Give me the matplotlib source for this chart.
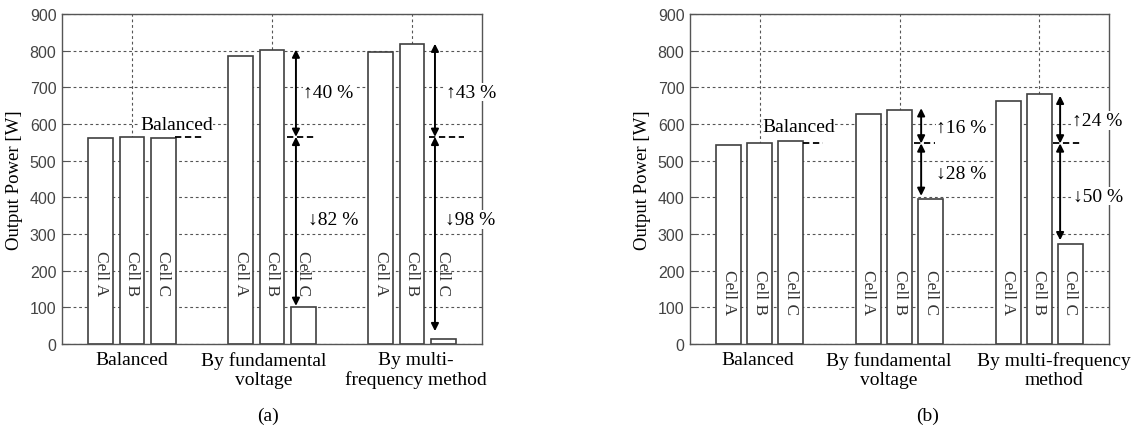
import numpy as np
import matplotlib.pyplot as plt
from matplotlib.transforms import blended_transform_factory

plt.rcParams['font.family'] = ['Liberation Serif', 'DejaVu Serif']

# --- DATA ---
groups = [1, 2, 3]
cells = ["Cell A", "Cell B", "Cell C"]

# panel (a)
power_a = [[561, 564, 561],   # balanced
           [786, 803, 100],   # by fundamental voltage
           [797, 819, 15]]    # by multi-frequency method
balanced_a = 565
arrow_top_a = [803, 819]
arrow_bot_a = [104, 35]
pct_up_a = ["\u219140 %", "\u219143 %"]
pct_dn_a = ["\u219382 %", "\u219398 %"]
xlabels_a = ["Balanced", "By fundamental\nvoltage", "By multi-\nfrequency method"]

# panel (b)
power_b = [[543, 549, 553],
           [628, 637, 395],
           [663, 681, 272]]
balanced_b = 547
arrow_top_b = [643, 677]
arrow_bot_b = [404, 283]
pct_up_b = ["\u219116 %", "\u219124 %"]
pct_dn_b = ["\u219328 %", "\u219350 %"]
xlabels_b = ["Balanced", "By fundamental\nvoltage", "By multi-frequency\nmethod"]

offsets = [-0.222, 0.0, 0.222]
bar_w = 0.178

EDGE = '#404040'
GRIDC = '#555555'


def draw_panel(ax, power, bal, a_top, a_bot, up_txt, dn_txt, xlabels,
               label_x, cell_y, arrow_dx, bal_spans, bal_txt, up_pos, dn_pos,
               tag, tag_x):
    power = np.array(power)
    for j in range(3):
        xs = np.array(groups) + offsets[j]
        ax.bar(xs, power[:, j], width=bar_w, facecolor='white',
               edgecolor=EDGE, linewidth=1.2, zorder=2)
        for x in xs:
            ax.text(x, cell_y, cells[j], rotation=-90, ha='center', va='center',
                    fontsize=12.5, color='#333333', zorder=3)

    # balanced reference dashes
    for (x0, x1) in bal_spans:
        ax.plot([x0, x1], [bal, bal], color='black', ls=(0, (3.5, 2)),
                lw=1.3, zorder=4)
    ax.text(bal_txt[0], bal_txt[1], "Balanced", ha='center', va='center',
            fontsize=14, zorder=5,
            bbox=dict(facecolor='white', edgecolor='none', pad=0.0))

    # deviation arrows for the two unbalanced groups
    for k, g in enumerate(groups[1:]):
        x = g + offsets[2] + arrow_dx[k]
        for tgt in (a_top[k], a_bot[k]):
            ax.annotate('', xy=(x, tgt), xytext=(x, bal),
                        arrowprops=dict(arrowstyle='<|-|>', color='black',
                                        lw=1.4, mutation_scale=11,
                                        shrinkA=0, shrinkB=0),
                        zorder=5)
        ax.text(g + up_pos[k][0], up_pos[k][1], up_txt[k], ha='left',
                va='center', fontsize=14, zorder=6,
                bbox=dict(facecolor='white', edgecolor='none', pad=0.5))
        ax.text(g + dn_pos[k][0], dn_pos[k][1], dn_txt[k], ha='left',
                va='center', fontsize=14, zorder=6,
                bbox=dict(facecolor='white', edgecolor='none', pad=0.5))

    ax.set_xlim(0.5, 3.5)
    ax.set_ylim(0, 900)
    ax.set_yticks(np.arange(0, 901, 100))
    ax.set_xticks(groups)
    ax.set_xticklabels([])
    ax.tick_params(axis='x', length=0)
    ax.tick_params(axis='y', direction='in', length=4, color='#555555',
                   labelsize=11.5, labelcolor='#444444', pad=4)
    for lab in ax.get_yticklabels():
        lab.set_family('Liberation Sans')
    ax.grid(True, color=GRIDC, ls=(0, (2.5, 2.5)), lw=0.8)
    ax.set_axisbelow(True)
    for sp in ax.spines.values():
        sp.set_color('#555555')
        sp.set_linewidth(1.0)
    ax.set_ylabel("Output Power [W]", fontsize=13.5, labelpad=5)

    trans = blended_transform_factory(ax.transData, ax.transAxes)
    for lx, txt in zip(label_x, xlabels):
        ax.text(lx, -0.022, txt, transform=trans, ha='center', va='top',
                fontsize=14, linespacing=1.15)
    ax.text(tag_x, -0.215, tag, transform=ax.transAxes, ha='center',
            va='center', fontsize=14)


fig = plt.figure(figsize=(11.41, 4.27), dpi=100)
ax1 = fig.add_axes([62 / 1141, 82 / 427, 420 / 1141, 330 / 427])
ax2 = fig.add_axes([690 / 1141, 82 / 427, 419 / 1141, 330 / 427])

draw_panel(ax1, power_a, balanced_a, arrow_top_a, arrow_bot_a,
           pct_up_a, pct_dn_a, xlabels_a,
           label_x=[1.0, 1.94, 3.03], cell_y=194, arrow_dx=[-0.051, -0.058],
           bal_spans=[(1.307, 1.507), (2.107, 2.314), (3.121, 3.371)],
           bal_txt=(1.32, 600),
           up_pos=[(0.225, 687), (0.243, 687)],
           dn_pos=[(0.257, 339), (0.236, 339)],
           tag="(a)", tag_x=0.49)

draw_panel(ax2, power_b, balanced_b, arrow_top_b, arrow_bot_b,
           pct_up_b, pct_dn_b, xlabels_b,
           label_x=[0.986, 1.92, 3.107], cell_y=143, arrow_dx=[-0.067, -0.072],
           bal_spans=[(1.307, 1.45), (2.107, 2.257), (3.1, 3.293)],
           bal_txt=(1.28, 593),
           up_pos=[(0.264, 592), (0.236, 609)],
           dn_pos=[(0.264, 466), (0.243, 404)],
           tag="(b)", tag_x=0.568)

fig.savefig("out.png", dpi=100, facecolor='white')
